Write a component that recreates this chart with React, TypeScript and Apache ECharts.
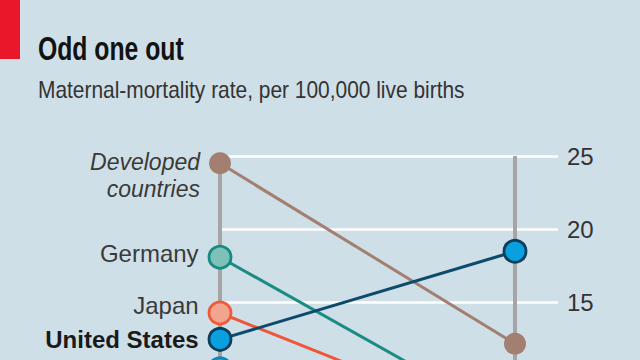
import React, { useEffect, useRef } from "react";
import * as echarts from "echarts";

// ---- data ----
const years = ["1990", "2013"];
const yearPositions = [0, 1];
const countries = ["Developed countries", "Germany", "Japan", "Britain", "United States"];
const labelTexts = ["Developed\ncountries", "Germany", "Japan", "", "United States"];
const rate1990 = [24.5, 18.1, 14.3, 10.5, 12.5];
const rate2013 = [12.2, 6.8, 6.3, 8.0, 18.5];
const yTicks = [0, 25, 5]; // min, max, interval

const titleText = "Odd one out";
const subtitleText = "Maternal-mortality rate, per 100,000 live births";

// ---- styles ----
const FONT = "'Liberation Sans', Arial, sans-serif";
const styles = [
  { fill: "#a27f71", border: "#a27f71", line: "#a27f71", offset: [0, 12.5], fontStyle: "italic", fontWeight: "normal", size: 23, color: "#3a3a3a" },
  { fill: "#7dc1b9", border: "#178b80", line: "#1a8c82", offset: [0, -4], fontStyle: "normal", fontWeight: "normal", size: 24, color: "#3a3a3a" },
  { fill: "#f1a48e", border: "#f05a3a", line: "#f0573a", offset: [0, -7.5], fontStyle: "normal", fontWeight: "normal", size: 24, color: "#3a3a3a" },
  { fill: "#10a8e0", border: "#0a86b8", line: "#10a3da", offset: [0, 0], fontStyle: "normal", fontWeight: "normal", size: 24, color: "#3a3a3a" },
  { fill: "#0aa0e0", border: "#0b3f5c", line: "#0c4b6b", offset: [0, 0], fontStyle: "normal", fontWeight: "bold", size: 24, color: "#1a1a1a" },
];
const drawOrder = [0, 1, 2, 3, 4];

export default function App() {
  const ref = useRef<HTMLDivElement>(null);
  useEffect(() => {
    if (!ref.current) return;
    const chart = echarts.init(ref.current, null, { renderer: "svg" });

    const axisSeries = yearPositions.map((p, k) => ({
      type: "line",
      name: years[k],
      z: 1,
      clip: false,
      silent: true,
      symbol: "none",
      lineStyle: { color: "#a5a5a5", width: 4 },
      data: [
        [p, yTicks[1]],
        [p, yTicks[0]],
      ],
    }));

    const lineSeries = drawOrder.map((i) => {
      const s = styles[i];
      return {
        type: "line",
        name: countries[i],
        z: 3 + i,
        clip: false,
        symbol: "circle",
        symbolSize: 22,
        lineStyle: { color: s.line, width: 3 },
        itemStyle: { color: s.fill, borderColor: s.border, borderWidth: i === 0 ? 0 : 2.8 },
        emphasis: { disabled: true },
        data: [
          {
            value: [yearPositions[0], rate1990[i]],
            label: {
              show: labelTexts[i] !== "",
              position: "left",
              distance: 9,
              offset: s.offset,
              formatter: labelTexts[i],
              fontFamily: FONT,
              fontSize: s.size,
              fontStyle: s.fontStyle,
              fontWeight: s.fontWeight,
              color: s.color,
              lineHeight: 27,
              align: "right",
            },
          },
          { value: [yearPositions[1], rate2013[i]] },
        ],
      };
    });

    chart.setOption({
      animation: false,
      backgroundColor: "#cfdfe7",
      grid: {
        left: 218,
        right: 82,
        top: 156,
        bottom: -162.7,
        containLabel: false,
        outerBoundsMode: "none",
      },
      xAxis: {
        type: "value",
        min: -2 / 295,
        max: 1 + 43 / 295,
        show: false,
      },
      yAxis: {
        type: "value",
        position: "right",
        min: yTicks[0],
        max: yTicks[1],
        interval: yTicks[2],
        axisLine: { show: false },
        axisTick: { show: false },
        axisLabel: {
          margin: 9,
          fontFamily: FONT,
          fontSize: 24,
          color: "#333333",
          formatter: (v: number) => (v >= 15 ? String(v) : ""),
        },
        splitLine: { lineStyle: { color: "#ffffff", width: 2.5 } },
      },
      graphic: [
        { type: "rect", shape: { x: 0, y: 0, width: 20, height: 59 }, style: { fill: "#e8172a" } },
        {
          type: "text",
          x: 38,
          y: 49,
          scaleX: 0.75,
          style: { text: titleText, fontFamily: FONT, fontSize: 33, fontWeight: "bold", fill: "#121212", verticalAlign: "middle" },
        },
        {
          type: "text",
          x: 38,
          y: 90,
          scaleX: 0.91,
          style: { text: subtitleText, fontFamily: FONT, fontSize: 23, fill: "#333333", verticalAlign: "middle" },
        },
      ],
      series: [...axisSeries, ...lineSeries],
    } as any);
    return () => chart.dispose();
  }, []);
  return <div ref={ref} style={{ position: "fixed", left: 0, top: 0, width: 640, height: 360 }} />;
}
